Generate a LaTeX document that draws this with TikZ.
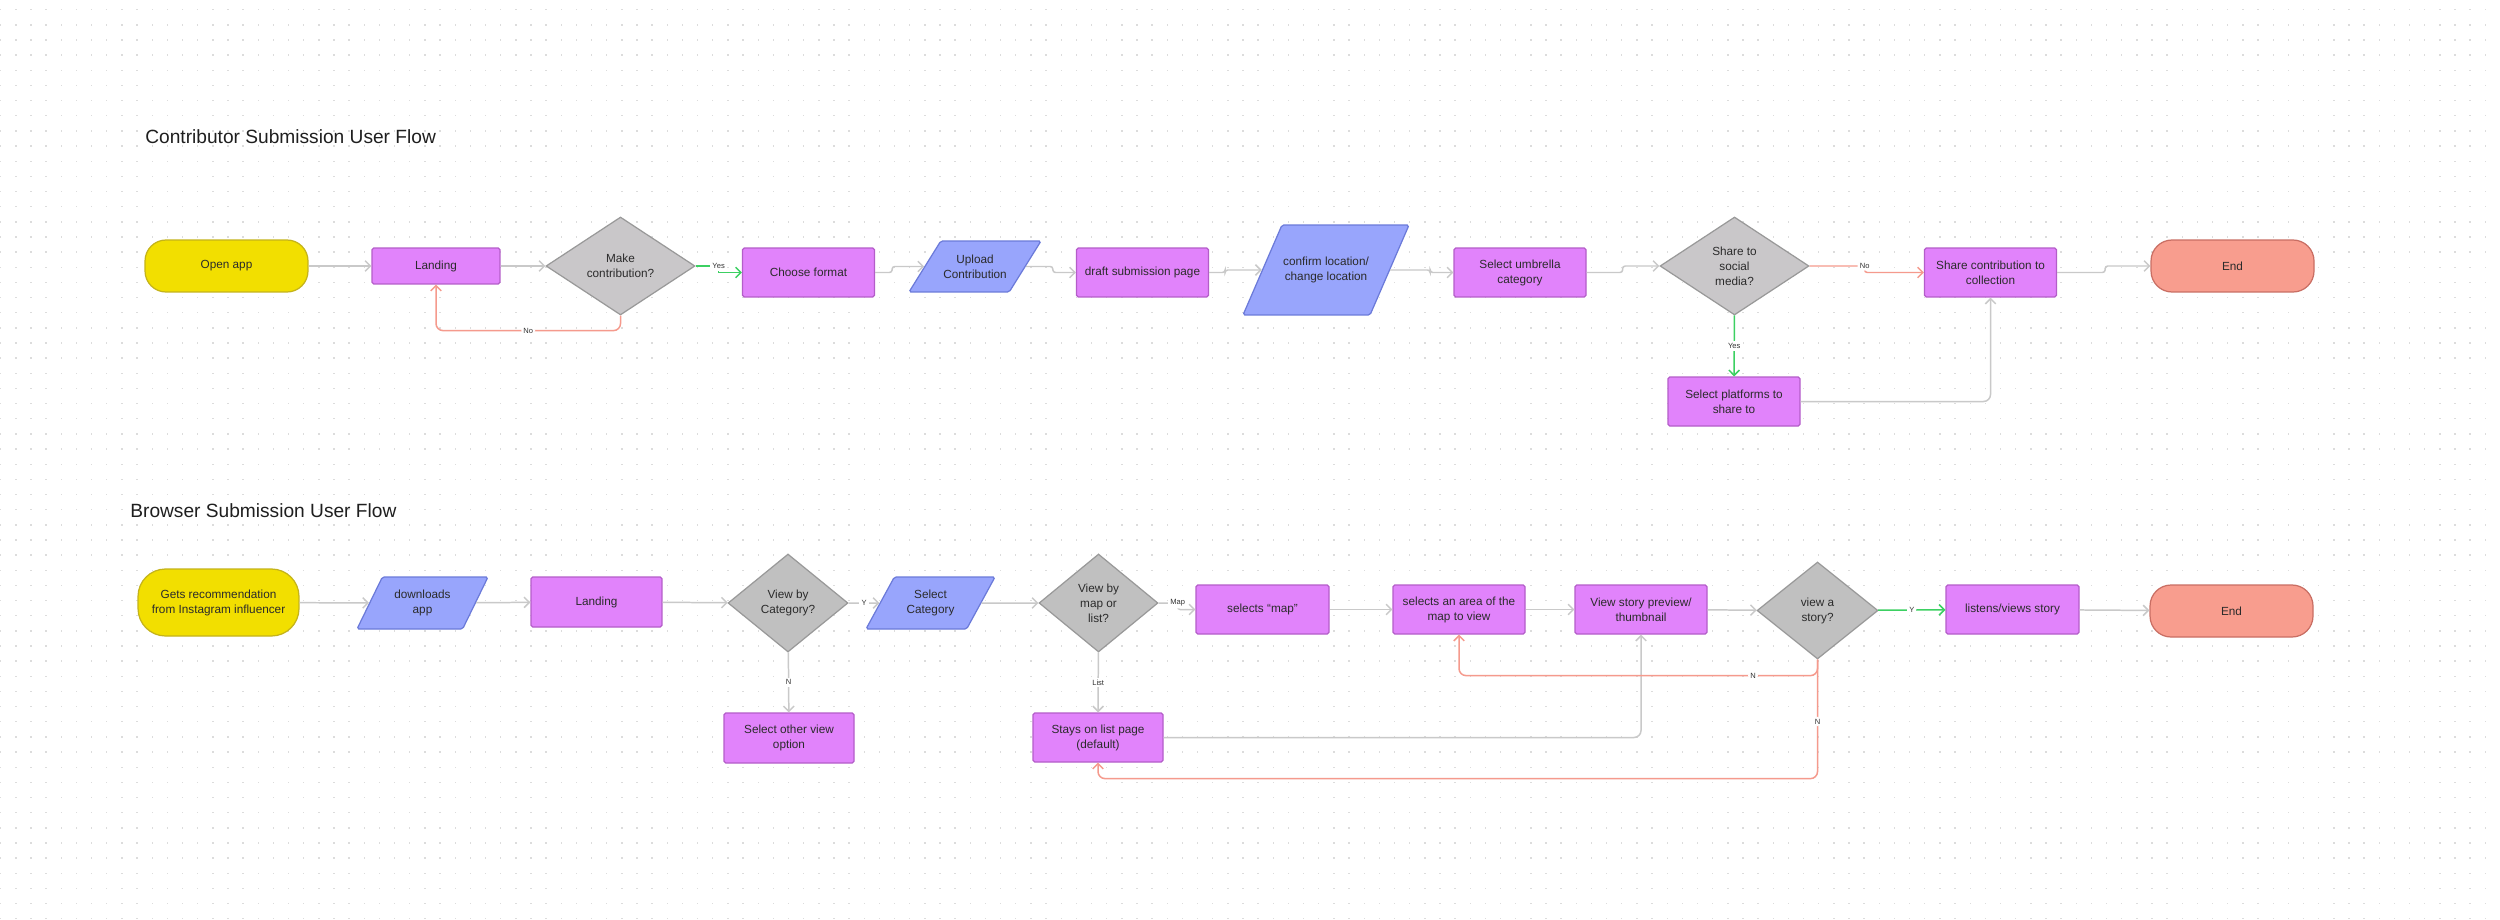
\documentclass[tikz,border=0pt]{standalone}
\usepackage{fontspec}
\setmainfont{Liberation Sans}
\usepackage{xcolor}
\usetikzlibrary{shapes.geometric,arrows.meta}

\definecolor{startfill}{HTML}{F2DF00}
\definecolor{startedge}{HTML}{C4B31A}
\definecolor{procfill}{HTML}{E183FB}
\definecolor{procedge}{HTML}{B45DC9}
\definecolor{iofill}{HTML}{98A5FC}
\definecolor{ioedge}{HTML}{6B7AD9}
\definecolor{decfill}{HTML}{C9C7C9}
\definecolor{decfilltwo}{HTML}{C0C0C0}
\definecolor{decedge}{HTML}{999999}
\definecolor{stopfill}{HTML}{F89D8E}
\definecolor{stopedge}{HTML}{C96E63}
\definecolor{flowgray}{HTML}{C9C9C9}
\definecolor{nored}{HTML}{F59A8D}
\definecolor{yesgreen}{HTML}{3CD062}
\definecolor{dotgray}{HTML}{DCDCDC}
\definecolor{textgray}{HTML}{2B2B2B}

\begin{document}
\begin{tikzpicture}[x=0.02cm, y=-0.02cm,
    >={Straight Barb[length=3pt,width=6pt]},
    every node/.style = {font=\fontsize{6.7}{8.5}\selectfont, text=textgray, align=center},
    title/.style = {font=\fontsize{10.9}{13}\selectfont, anchor=base west, inner sep=0pt, text=black!88},
    start/.style = {draw=startedge, fill=startfill, line width=0.7pt, rounded corners=0.42cm,
                    minimum width=3.26cm, minimum height=1.04cm},
    stop/.style  = {draw=stopedge, fill=stopfill, line width=0.7pt, rounded corners=0.42cm,
                    minimum width=3.26cm, minimum height=1.04cm},
    proc/.style  = {draw=procedge, fill=procfill, line width=0.7pt, rounded corners=1pt,
                    minimum width=2.64cm, minimum height=0.98cm},
    io/.style    = {trapezium, trapezium stretches body, draw=ioedge, fill=iofill, line width=0.7pt,
                    rounded corners=1pt, inner xsep=0pt, minimum width=2.64cm, minimum height=1.02cm},
    dec/.style   = {diamond, draw=decedge, fill=decfill, line width=0.7pt, inner sep=0pt,
                    minimum width=2.98cm, minimum height=1.96cm},
    lbl/.style   = {font=\fontsize{4.3}{5}\selectfont, fill=white, inner sep=1.2pt, text=black!80},
    flow/.style  = {->, draw=flowgray, line width=0.85pt},
    jog/.style   = {flow, rounded corners=1.5pt},
    yes/.style   = {->, draw=yesgreen, line width=0.85pt},
    no/.style    = {->, draw=nored, line width=0.85pt, rounded corners=4pt}]

    % canvas
    \fill[white] (0,0) rectangle (2500,919);
    \useasboundingbox (0,0) rectangle (2500,919);
    \foreach \i in {0,...,165} {
        \foreach \j in {0,...,60} {
            \fill[dotgray] (\i*15.15,9+\j*15.15) rectangle ++(1.4,1.4);
        }
    }

    % contributor flow
    \node[title] (t1) at (145,143) {Contributor Submission User Flow};
    \node[start] (open)      at (226.5,266)  {Open app};
    \node[proc, minimum width=2.56cm, minimum height=0.72cm] (land1) at (436,266) {Landing};
    \node[dec]   (make)      at (620.5,266)  {Make\\contribution?};
    \node[proc]  (choose)    at (808.5,272.5) {Choose format};
    \node[io, trapezium left angle=48, trapezium right angle=132] (upload) at (975,266.5) {Upload\\Contribution};
    \node[proc]  (draft)     at (1142.5,272.5) {draft submission page};
    \node[io, trapezium left angle=44, trapezium right angle=136, minimum width=3.32cm, minimum height=1.8cm]
                 (confirm)   at (1326,270)   {confirm location/\\change location};
    \node[proc]  (umbrella)  at (1520,272.5) {Select umbrella\\category};
    \node[dec]   (share)     at (1734.5,266) {Share to\\social\\media?};
    \node[proc]  (collect)   at (1990.5,272.5) {Share contribution to\\collection};
    \node[stop]  (end1)      at (2232.5,266) {End};
    \node[proc]  (platforms) at (1734,401.5) {Select platforms to\\share to};

    \draw[flow] (open) -- (land1);
    \draw[flow] (land1) -- (make);
    \draw[yes] (make.east) -- ++(23,0) node[lbl] {Yes} |- (choose.west);
    \draw[no] (make.south) -- ++(0,15) -| node[pos=0.25,lbl] {No} (land1.south);
    \draw[jog] (choose.east) -- ++(17,0) |- (upload.west);
    \draw[jog] (upload.east) -- ++(27,0) |- (draft.west);
    \draw[jog] (draft.east) -- ++(16,0) |- (confirm.west);
    \draw[jog] (confirm.east) -- ++(40,0) |- (umbrella.west);
    \draw[jog] (umbrella.east) -- ++(36,0) |- (share.west);
    \draw[no, rounded corners=1.5pt] (share.east) -- ++(55,0) node[lbl] {No} |- (collect.west);
    \draw[yes] (share) -- node[lbl] {Yes} (platforms);
    \draw[flow, rounded corners=4pt] (platforms) -| (collect);
    \draw[jog] (collect.east) -- ++(48,0) |- (end1.west);

    % browser flow
    \node[title] (t2) at (130,517) {Browser Submission User Flow};
    \node[start, minimum width=3.22cm, minimum height=1.34cm, rounded corners=0.55cm]
                 (gets)      at (218.5,602.5) {Gets recommendation\\from Instagram influencer};
    \node[io, trapezium left angle=56, trapezium right angle=124, minimum width=2.62cm, minimum height=1.04cm]
                 (download)  at (422.5,603)  {downloads\\app};
    \node[proc, minimum width=2.62cm, minimum height=1cm] (land2) at (596.5,602) {Landing};
    \node[dec, fill=decfilltwo, minimum width=2.4cm] (bycat) at (788,603) {View by\\Category?};
    \node[proc, minimum width=2.6cm, minimum height=1cm] (other) at (789,738) {Select other view\\option};
    \node[io, trapezium left angle=53, trapezium right angle=127, minimum width=2.58cm, minimum height=1.04cm]
                 (selcat)    at (930.5,603)  {Select\\Category};
    \node[dec, fill=decfilltwo, minimum width=2.38cm] (maplist) at (1098.5,603) {View by\\map or\\list?};
    \node[proc, minimum width=2.66cm] (selmap) at (1262.5,609.5) {selects “map”};
    \node[proc]  (area)      at (1459,609.5) {selects an area of the\\map to view};
    \node[proc]  (preview)   at (1641,609.5) {View story preview/\\thumbnail};
    \node[dec, fill=decfilltwo, minimum width=2.42cm, minimum height=1.94cm] (story) at (1817.5,610.5) {view a\\story?};
    \node[proc, minimum width=2.66cm] (listen) at (2012.5,609.5) {listens/views story};
    \node[stop]  (end2)      at (2231.5,611) {End};
    \node[proc, minimum width=2.6cm] (stays) at (1098,737.5) {Stays on list page\\(default)};

    \draw[flow] (gets) -- (download);
    \draw[flow] (download) -- (land2);
    \draw[flow] (land2) -- (bycat);
    \draw[flow] (bycat) -- node[lbl] {Y} (selcat);
    \draw[flow] (bycat) -- node[lbl] {N} (other);
    \draw[flow] (selcat) -- (maplist);
    \draw[jog] (maplist.east) -- ++(19,0) node[lbl] {Map} |- (selmap.west);
    \draw[flow] (maplist) -- node[lbl] {List} (stays);
    \draw[flow] (selmap) -- (area);
    \draw[flow] (area) -- (preview);
    \draw[flow] (preview) -- (story);
    \draw[yes] (story) -- node[lbl] {Y} (listen);
    \draw[flow] (listen) -- (end2);
    \draw[flow, rounded corners=4pt] (stays) -| (preview);
    \draw[no] (story.south) -- ++(0,16) -| node[pos=0.09,lbl] {N} (area.south);
    \draw[no] (story.south) -- node[pos=0.52,lbl] {N} ++(0,119) -| (stays.south);
\end{tikzpicture}
\end{document}
